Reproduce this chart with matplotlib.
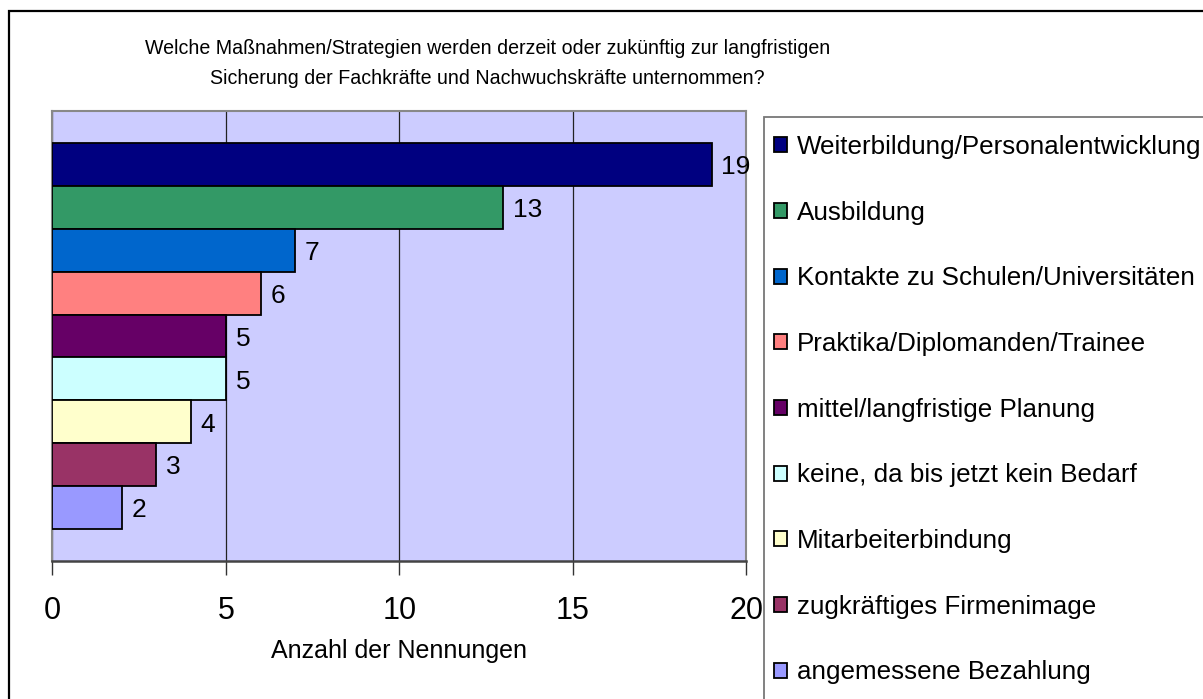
import matplotlib
matplotlib.use("Agg")
import matplotlib.pyplot as plt
from matplotlib.patches import Rectangle

plt.rcParams['font.family'] = ['Liberation Sans', 'DejaVu Sans']

categories = [
    "Weiterbildung/Personalentwicklung",
    "Ausbildung",
    "Kontakte zu Schulen/Universitäten",
    "Praktika/Diplomanden/Trainee",
    "mittel/langfristige Planung",
    "keine, da bis jetzt kein Bedarf",
    "Mitarbeiterbindung",
    "zugkräftiges Firmenimage",
    "angemessene Bezahlung",
]
values = [19, 13, 7, 6, 5, 5, 4, 3, 2]
colors = ["#000080", "#339966", "#0066CC", "#FF8080", "#660066",
          "#CCFFFF", "#FFFFCC", "#993366", "#9999FF"]
xticks = [0, 5, 10, 15, 20]
title = ("Welche Maßnahmen/Strategien werden derzeit oder zukünftig zur langfristigen\n"
         "Sicherung der Fachkräfte und Nachwuchskräfte unternommen?")
xlabel = "Anzahl der Nennungen"

W, H = 1203, 699
fig = plt.figure(figsize=(W / 100, H / 100), dpi=100)

# outer chart border (extends past right/bottom edges)
fig.patches.append(Rectangle((8.5 / W, -0.05), 1.2, (H - 10.5) / H + 0.05,
                             transform=fig.transFigure, fill=False,
                             edgecolor="black", linewidth=1.6, zorder=0))

left, right, top, bottom = 52.3, 746.4, 111, 561
ax = fig.add_axes([left / W, (H - bottom) / H, (right - left) / W, (bottom - top) / H])
ax.set_facecolor("#CCCCFF")

ypos = list(range(len(values)))
bars = ax.barh(ypos, values, height=1.0, color=colors, edgecolor="black",
               linewidth=1.3, zorder=3)
ax.set_xlim(0, 20)
ax.set_ylim(len(values) - 0.5 + 0.745, -0.5 - 0.745)
ax.set_xticks(xticks)
ax.set_xticklabels([str(t) for t in xticks], fontsize=22)
ax.set_yticks([])
ax.tick_params(axis='x', direction='out', length=10, width=1, color="#333333", pad=15)
ax.xaxis.grid(True, color="#222222", linewidth=0.9, zorder=1)
for s in ['top', 'right', 'left']:
    ax.spines[s].set_color("#888888")
    ax.spines[s].set_linewidth(1.5)
ax.spines['bottom'].set_color("#444444")
ax.spines['bottom'].set_linewidth(1.8)

for b, v in zip(bars, values):
    ax.annotate(str(v), (v, b.get_y() + b.get_height() / 2), xytext=(7, -2),
                textcoords="offset points", ha="left", va="center", fontsize=19,
                zorder=5, annotation_clip=False)

fig.text(399 / W, 1 - 651 / H, xlabel, ha="center", va="center", fontsize=18)
fig.text(487.5 / W, 1 - 63.5 / H, title, ha="center", va="center", fontsize=14.1,
         linespacing=1.75)

# legend box
fig.patches.append(Rectangle((764 / W, -0.05), 1.0, (H - 116.7) / H + 0.05,
                             transform=fig.transFigure, fill=False,
                             edgecolor="#777777", linewidth=1.3, zorder=1))
leg = fig.legend(bars, categories, loc="upper left",
                 bbox_to_anchor=(774 / W, 1 - 135 / H), frameon=False,
                 fontsize=18.7, handlelength=0.5, handleheight=0.5,
                 handletextpad=0.38, labelspacing=1.605, borderaxespad=0,
                 borderpad=0)

fig.savefig("out.png", dpi=100)
